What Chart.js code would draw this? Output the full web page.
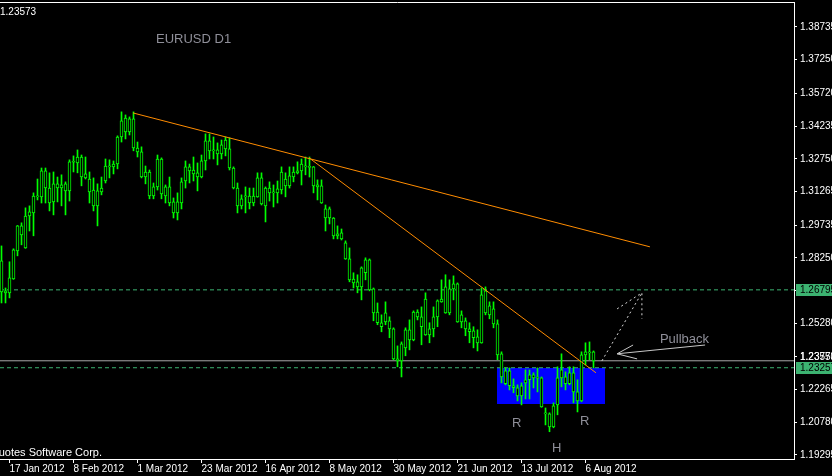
<!DOCTYPE html>
<html>
<head>
<meta charset="utf-8">
<title>EURUSD D1</title>
<script src="https://cdn.jsdelivr.net/npm/chart.js@4.4.1/dist/chart.umd.min.js"></script>
<style>
  html, body { margin: 0; padding: 0; background: #000; overflow: hidden; }
  #chart { display: block; }
</style>
</head>
<body>
<canvas id="chart" width="832" height="476"></canvas>
<script>
// Daily EURUSD candles, 13 Jan 2012 .. 8 Aug 2012
const openP = [
  1.2811, 1.2666, 1.2666, 1.2729, 1.2856, 1.2970, 1.2870, 1.3015, 1.3029, 1.3102,
  1.3102, 1.3220, 1.3142, 1.3079, 1.3161, 1.3142, 1.3129, 1.3129, 1.3261, 1.3256,
  1.3283, 1.3188, 1.3183, 1.3133, 1.3061, 1.3124, 1.3174, 1.3242, 1.3238, 1.3251,
  1.3374, 1.3460, 1.3397, 1.3456, 1.3324, 1.3306, 1.3192, 1.3215, 1.3106, 1.3147,
  1.3274, 1.3106, 1.3147, 1.3079, 1.3029, 1.3074, 1.3174, 1.3238, 1.3224, 1.3211,
  1.3192, 1.3265, 1.3356, 1.3311, 1.3315, 1.3297, 1.3320, 1.3320, 1.3233, 1.3142,
  1.3061, 1.3102, 1.3106, 1.3074, 1.3102, 1.3188, 1.3061, 1.3142, 1.3120, 1.3120,
  1.3133, 1.3183, 1.3152, 1.3192, 1.3211, 1.3220, 1.3238, 1.3240, 1.3238, 1.3156,
  1.3152, 1.3047, 1.3006, 1.3006, 1.2925, 1.2938, 1.2893, 1.2820, 1.2729, 1.2716,
  1.2693, 1.2757, 1.2816, 1.2684, 1.2579, 1.2530, 1.2534, 1.2539, 1.2502, 1.2366,
  1.2357, 1.2416, 1.2498, 1.2452, 1.2579, 1.2557, 1.2638, 1.2475, 1.2502, 1.2557,
  1.2625, 1.2575, 1.2684, 1.2684, 1.2707, 1.2534, 1.2539, 1.2502, 1.2493, 1.2466,
  1.2439, 1.2675, 1.2566, 1.2593, 1.2525, 1.2389, 1.2312, 1.2244, 1.2244, 1.2235,
  1.2198, 1.2257, 1.2271, 1.2294, 1.2280, 1.2280, 1.2116, 1.2116, 1.2057, 1.2157,
  1.2280, 1.2284, 1.2253, 1.2303, 1.2216, 1.2175, 1.2384, 1.2398, 1.2398
];
const highP = [
  1.2879, 1.2688, 1.2807, 1.2866, 1.2972, 1.2984, 1.3052, 1.3061, 1.3120, 1.3183,
  1.3233, 1.3233, 1.3211, 1.3215, 1.3192, 1.3202, 1.3170, 1.3270, 1.3288, 1.3315,
  1.3292, 1.3283, 1.3215, 1.3188, 1.3161, 1.3192, 1.3274, 1.3270, 1.3265, 1.3379,
  1.3488, 1.3474, 1.3465, 1.3488, 1.3351, 1.3329, 1.3242, 1.3224, 1.3165, 1.3292,
  1.3279, 1.3156, 1.3192, 1.3097, 1.3120, 1.3188, 1.3265, 1.3251, 1.3283, 1.3256,
  1.3292, 1.3388, 1.3388, 1.3374, 1.3347, 1.3360, 1.3374, 1.3370, 1.3238, 1.3165,
  1.3111, 1.3147, 1.3142, 1.3142, 1.3211, 1.3211, 1.3147, 1.3170, 1.3156, 1.3174,
  1.3238, 1.3211, 1.3238, 1.3238, 1.3261, 1.3274, 1.3283, 1.3283, 1.3240, 1.3179,
  1.3179, 1.3065, 1.3056, 1.3008, 1.2970, 1.2956, 1.2902, 1.2870, 1.2757, 1.2748,
  1.2784, 1.2825, 1.2820, 1.2688, 1.2620, 1.2566, 1.2625, 1.2557, 1.2507, 1.2425,
  1.2443, 1.2507, 1.2543, 1.2584, 1.2589, 1.2602, 1.2666, 1.2530, 1.2602, 1.2634,
  1.2725, 1.2748, 1.2725, 1.2743, 1.2711, 1.2584, 1.2552, 1.2530, 1.2512, 1.2498,
  1.2688, 1.2693, 1.2625, 1.2625, 1.2543, 1.2398, 1.2325, 1.2325, 1.2275, 1.2248,
  1.2257, 1.2316, 1.2316, 1.2303, 1.2325, 1.2284, 1.2143, 1.2121, 1.2166, 1.2330,
  1.2389, 1.2307, 1.2330, 1.2330, 1.2271, 1.2398, 1.2439, 1.2443, 1.2402
];
const lowP = [
  1.2620, 1.2620, 1.2643, 1.2727, 1.2834, 1.2884, 1.2868, 1.2947, 1.2925, 1.3088,
  1.3074, 1.3074, 1.3038, 1.3020, 1.3079, 1.3061, 1.3020, 1.3083, 1.3215, 1.3211,
  1.3152, 1.3183, 1.3074, 1.3038, 1.2970, 1.3111, 1.3165, 1.3188, 1.3206, 1.3229,
  1.3351, 1.3365, 1.3383, 1.3311, 1.3283, 1.3188, 1.3161, 1.3093, 1.3093, 1.3133,
  1.3093, 1.3074, 1.3061, 1.3006, 1.2997, 1.3047, 1.3142, 1.3165, 1.3174, 1.3129,
  1.3188, 1.3224, 1.3274, 1.3274, 1.3247, 1.3274, 1.3288, 1.3224, 1.3138, 1.3029,
  1.3047, 1.3029, 1.3047, 1.3061, 1.3100, 1.3065, 1.2988, 1.3083, 1.3056, 1.3074,
  1.3115, 1.3102, 1.3142, 1.3170, 1.3206, 1.3156, 1.3202, 1.3192, 1.3120, 1.3088,
  1.3072, 1.2947, 1.2979, 1.2911, 1.2911, 1.2906, 1.2818, 1.2716, 1.2688, 1.2666,
  1.2634, 1.2725, 1.2675, 1.2539, 1.2521, 1.2489, 1.2521, 1.2462, 1.2362, 1.2330,
  1.2284, 1.2380, 1.2407, 1.2448, 1.2543, 1.2430, 1.2473, 1.2439, 1.2466, 1.2512,
  1.2623, 1.2573, 1.2566, 1.2634, 1.2532, 1.2507, 1.2471, 1.2439, 1.2416, 1.2402,
  1.2437, 1.2566, 1.2548, 1.2507, 1.2362, 1.2257, 1.2248, 1.2225, 1.2212, 1.2175,
  1.2157, 1.2184, 1.2184, 1.2234, 1.2216, 1.2146, 1.2066, 1.2035, 1.2053, 1.2112,
  1.2239, 1.2225, 1.2248, 1.2166, 1.2125, 1.2171, 1.2339, 1.2362, 1.2325
];
const closeP = [
  1.2670, 1.2675, 1.2734, 1.2861, 1.2970, 1.2929, 1.3015, 1.3034, 1.3106, 1.3106,
  1.3220, 1.3142, 1.3074, 1.3161, 1.3142, 1.3156, 1.3161, 1.3261, 1.3259, 1.3283,
  1.3192, 1.3206, 1.3124, 1.3061, 1.3129, 1.3142, 1.3242, 1.3238, 1.3251, 1.3374,
  1.3447, 1.3397, 1.3456, 1.3324, 1.3306, 1.3192, 1.3215, 1.3106, 1.3147, 1.3274,
  1.3115, 1.3147, 1.3074, 1.3029, 1.3079, 1.3170, 1.3238, 1.3220, 1.3206, 1.3192,
  1.3265, 1.3356, 1.3311, 1.3315, 1.3297, 1.3338, 1.3360, 1.3233, 1.3142, 1.3061,
  1.3093, 1.3106, 1.3074, 1.3106, 1.3188, 1.3070, 1.3142, 1.3120, 1.3124, 1.3138,
  1.3215, 1.3152, 1.3197, 1.3215, 1.3220, 1.3251, 1.3240, 1.3236, 1.3152, 1.3147,
  1.3074, 1.3006, 1.3047, 1.2925, 1.2934, 1.2911, 1.2820, 1.2725, 1.2711, 1.2693,
  1.2779, 1.2816, 1.2679, 1.2575, 1.2530, 1.2512, 1.2575, 1.2502, 1.2366, 1.2357,
  1.2434, 1.2498, 1.2452, 1.2579, 1.2557, 1.2512, 1.2475, 1.2502, 1.2557, 1.2630,
  1.2638, 1.2693, 1.2575, 1.2707, 1.2534, 1.2566, 1.2502, 1.2489, 1.2462, 1.2439,
  1.2657, 1.2575, 1.2607, 1.2525, 1.2384, 1.2284, 1.2253, 1.2312, 1.2235, 1.2198,
  1.2244, 1.2271, 1.2294, 1.2280, 1.2278, 1.2148, 1.2118, 1.2057, 1.2153, 1.2280,
  1.2316, 1.2253, 1.2303, 1.2216, 1.2175, 1.2384, 1.2398, 1.2393, 1.2357
];

// time axis labels (bar index of each label)
const dateTickBars = [2, 18, 34, 50, 66, 82, 98, 114, 130, 146];
const dateTickLabels = ["17 Jan 2012", "8 Feb 2012", "1 Mar 2012", "23 Mar 2012", "16 Apr 2012",
  "8 May 2012", "30 May 2012", "21 Jun 2012", "13 Jul 2012", "6 Aug 2012"];

// price axis labels
const priceTicks = [1.38735, 1.37250, 1.35720, 1.34235, 1.32750, 1.31265, 1.29735,
  1.28250, 1.26765, 1.25280, 1.23750, 1.22265, 1.20780, 1.19295];

// drawn objects
const trend1Bars = [32.9, 162.1];
const trend1Prices = [1.3483, 1.2875];
const trend2Bars = [76.9, 148.6];
const trend2Prices = [1.3279, 1.2303];
const levelUpper = 1.26795;
const levelLower = 1.23257;
const bidPrice = 1.23573;
const boxBars = [123.9, 150.9];
const boxPrices = [1.2325, 1.2161];

// arrows: [bar, price] points
const projArrow = [[150.1, 1.2357], [160.1, 1.2666]];
const projHead = [[153.9, 1.2593], [160.1, 1.2666], [160.1, 1.2548]];
const pullArrow = [[175.9, 1.2429], [153.9, 1.2389]];
const pullHead = [[157.9, 1.2429], [153.9, 1.2389], [158.9, 1.2366]];

// text labels: [text, bar, price]
const patternLabels = [["R", 127.6, 1.2057], ["H", 137.6, 1.1943], ["R", 144.6, 1.2066], ["Pullback", 164.6, 1.2438]];

const FONT = "'Liberation Sans', Arial, sans-serif";
const LIME = "#00ff00";

const barIdx = openP.map((_, i) => i);
const wickData = barIdx.map(i => ({ x: i, y: [lowP[i], highP[i]] }));
const bodyData = barIdx.map(i => ({ x: i, y: [Math.min(openP[i], closeP[i]), Math.max(openP[i], closeP[i])] }));

const X_MIN = -0.375, X_MAX = 198.125;
const hLine = (price) => [{ x: X_MIN, y: price }, { x: X_MAX, y: price }];

const overlay = {
  id: "overlay",
  beforeDatasetsDraw(chart) {
    const { ctx, scales: { x, y } } = chart;
    const x0 = x.getPixelForValue(boxBars[0]), x1 = x.getPixelForValue(boxBars[1]);
    const y0 = y.getPixelForValue(boxPrices[0]), y1 = y.getPixelForValue(boxPrices[1]);
    ctx.save();
    ctx.fillStyle = "#0000ff";
    ctx.fillRect(Math.round(x0), Math.round(y0), Math.round(x1 - x0), Math.round(y1 - y0));
    ctx.restore();
  },
  afterDraw(chart) {
    const { ctx, chartArea: area, scales: { x, y } } = chart;
    const pt = p => [x.getPixelForValue(p[0]), y.getPixelForValue(p[1])];
    ctx.save();

    // frame top line
    ctx.strokeStyle = "#ffffff";
    ctx.lineWidth = 1;
    ctx.beginPath();
    ctx.moveTo(area.left, area.top + 0.5);
    ctx.lineTo(area.right + 1, area.top + 0.5);
    ctx.stroke();

    // projection arrow (dotted)
    ctx.strokeStyle = "#d8d8d8";
    ctx.setLineDash([2, 3]);
    [projArrow, projHead].forEach(path => {
      ctx.beginPath();
      path.map(pt).forEach(([px, py], i) => i ? ctx.lineTo(px, py) : ctx.moveTo(px, py));
      ctx.stroke();
    });
    ctx.setLineDash([]);

    // pullback arrow (solid)
    ctx.strokeStyle = "#c8c8c8";
    [pullArrow, pullHead].forEach(path => {
      ctx.beginPath();
      path.map(pt).forEach(([px, py], i) => i ? ctx.lineTo(px, py) : ctx.moveTo(px, py));
      ctx.stroke();
    });

    // annotations
    ctx.fillStyle = "#8f8f99";
    ctx.font = "13px " + FONT;
    ctx.textBaseline = "alphabetic";
    ctx.textAlign = "left";
    patternLabels.forEach(([t, b, p]) => {
      const [px, py] = pt([b, p]);
      ctx.fillText(t, px, py);
    });
    ctx.fillText("EURUSD D1", 156, 43);

    // top-left price and copyright
    ctx.fillStyle = "#ffffff";
    ctx.font = "10px " + FONT;
    ctx.fillText("1.23573", 0, 15);
    ctx.font = "11px " + FONT;
    ctx.textAlign = "right";
    ctx.fillText("\u00a9 2001-2012 MetaQuotes Software Corp.", 102, 456);

    // price labels on the right axis
    ctx.textAlign = "left";
    ctx.textBaseline = "middle";
    ctx.font = "10px " + FONT;
    const by = y.getPixelForValue(bidPrice);
    ctx.fillStyle = "#ffffff";
    ctx.fillText(bidPrice.toFixed(5), area.right + 6, by - 4);
    [levelUpper, levelLower].forEach(v => {
      const py = Math.round(y.getPixelForValue(v));
      ctx.fillStyle = "#3cb371";
      ctx.fillRect(area.right + 2, py - 6, 40, 12);
      ctx.fillStyle = "#000000";
      ctx.fillText(v.toFixed(5), area.right + 6, py);
    });
    ctx.restore();
  }
};

new Chart(document.getElementById("chart"), {
  type: "bar",
  data: {
    datasets: [
      { type: "line", data: hLine(levelUpper), borderColor: "#3cb371", borderWidth: 1, borderDash: [4, 3], pointRadius: 0, order: 6 },
      { type: "line", data: hLine(levelLower), borderColor: "#3cb371", borderWidth: 1, borderDash: [4, 3], pointRadius: 0, order: 6 },
      { type: "line", data: hLine(bidPrice), borderColor: "#a8a8a8", borderWidth: 1, pointRadius: 0, order: 5 },
      { data: wickData, backgroundColor: LIME, borderWidth: 0, barThickness: 1, grouped: false, order: 3 },
      { data: bodyData, backgroundColor: "#000000", borderColor: LIME, borderWidth: 1, borderSkipped: false,
        barThickness: 3, minBarLength: 1, grouped: false, order: 2 },
      { type: "line", data: trend1Bars.map((b, i) => ({ x: b, y: trend1Prices[i] })), borderColor: "#ff8c00", borderWidth: 1, pointRadius: 0, order: 1 },
      { type: "line", data: trend2Bars.map((b, i) => ({ x: b, y: trend2Prices[i] })), borderColor: "#ff8c00", borderWidth: 1, pointRadius: 0, order: 1 }
    ]
  },
  options: {
    responsive: false,
    animation: false,
    devicePixelRatio: 1,
    layout: { padding: { top: 2, left: 0, right: 0, bottom: 0 } },
    plugins: { legend: { display: false }, tooltip: { enabled: false } },
    scales: {
      x: {
        type: "linear",
        position: "bottom",
        min: X_MIN,
        max: X_MAX,
        offset: false,
        afterFit: s => { s.height = 17; s.paddingLeft = 0; s.paddingRight = 0; },
        afterBuildTicks: s => { s.ticks = dateTickBars.map(v => ({ value: v })); },
        ticks: {
          callback: (v, i) => dateTickLabels[i],
          align: "start",
          color: "#ffffff",
          font: { family: FONT, size: 10 },
          padding: 0,
          autoSkip: false,
          maxRotation: 0
        },
        grid: { drawOnChartArea: false, drawTicks: true, tickLength: 4, color: "#ffffff", offset: false },
        border: { display: true, color: "#ffffff" }
      },
      y: {
        type: "linear",
        position: "right",
        min: 1.19112,
        max: 1.3987,
        afterFit: s => { s.width = 38; s.paddingTop = 0; s.paddingBottom = 0; },
        afterBuildTicks: s => { s.ticks = priceTicks.map(v => ({ value: v })); },
        ticks: {
          callback: v => v.toFixed(5),
          color: "#ffffff",
          font: { family: FONT, size: 10 },
          padding: 3
        },
        grid: { drawOnChartArea: false, drawTicks: true, tickLength: 3, color: "#ffffff" },
        border: { display: true, color: "#ffffff" }
      }
    }
  },
  plugins: [overlay]
});
</script>
</body>
</html>
